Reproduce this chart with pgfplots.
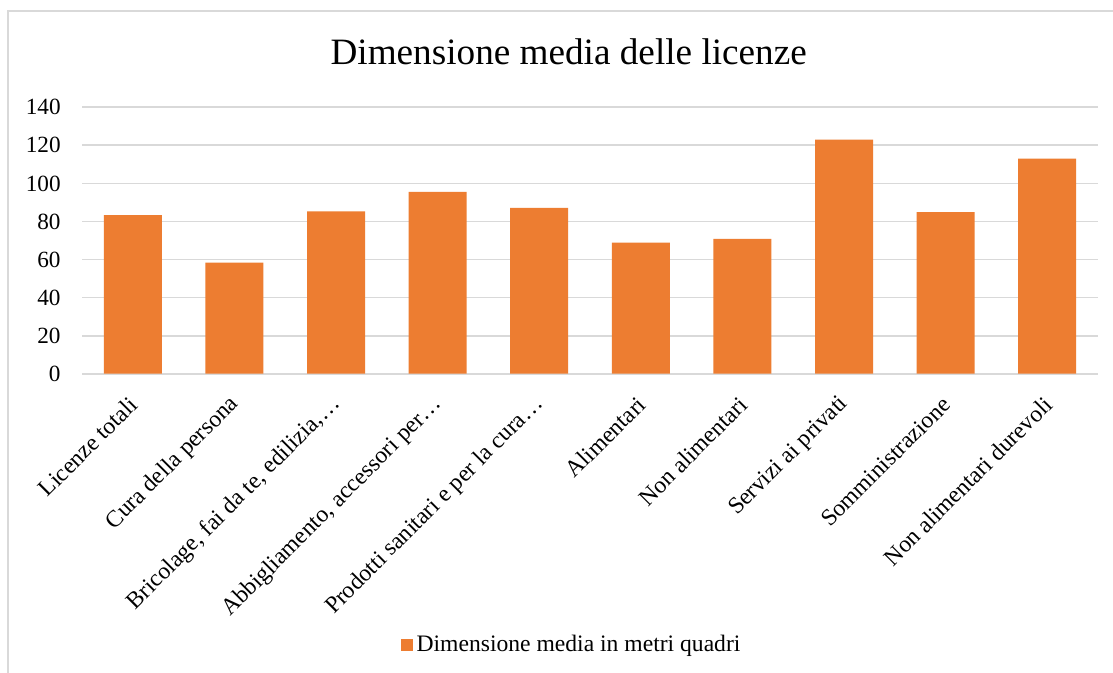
\documentclass[border=0pt]{standalone}
\usepackage{pgfplots}
\pgfplotsset{compat=1.18}
\usepackage{fontspec}
\setmainfont{Liberation Serif}

\definecolor{barorange}{HTML}{ED7D31}
\definecolor{gridgray}{HTML}{D9D9D9}

\pgfplotstableread[col sep=comma]{
x,val
0,83.3
1,58.4
2,85.3
3,95.6
4,87.2
5,68.9
6,70.9
7,123.0
8,84.9
9,113.0
}\licenze

\begin{document}
\begin{tikzpicture}
% canvas: 1113 x 673 px at 0.5pt per px
\useasboundingbox (0,0) rectangle (556.5pt,336.5pt);
\fill[white] (0,0) rectangle (556.5pt,336.5pt);
% chart area frame (left and top edges)
\draw[gridgray, line width=0.8pt] (4pt,0pt) -- (4pt,331pt) -- (556.5pt,331pt);

\begin{axis}[
  at={(41pt,149.65pt)}, anchor=south west,
  scale only axis,
  width=508pt, height=133.2pt,
  xmin=-0.5, xmax=9.5,
  ymin=0, ymax=140,
  ytick={0,20,...,140},
  xtick={0,...,9},
  xticklabels={Licenze totali, Cura della persona, {Bricolage, fai da te, edilizia,…}, {Abbigliamento, accessori per…}, Prodotti sanitari e per la cura…, Alimentari, Non alimentari, Servizi ai privati, Somministrazione, Non alimentari durevoli},
  axis line style={draw=none},
  major tick length=0pt,
  ymajorgrids,
  major grid style={gridgray, line width=0.9pt},
  /pgf/number format/assume math mode=true,
  tick label style={text=black},
  yticklabel style={font=\fontsize{11.6}{14}\selectfont, anchor=east, inner sep=0pt, xshift=-10.5pt},
  xticklabel style={font=\fontsize{11.8}{14}\selectfont, yshift=-13.5pt, xshift=0.5pt, rotate=45, anchor=east, inner sep=0pt},
  title={Dimensione media delle licenze},
  title style={font=\fontsize{18.6}{22}\selectfont, at={(axis description cs:0.479,1.1626)}, anchor=center, inner sep=0pt},
  legend style={draw=none, fill=none, at={(axis description cs:0.483,-1.018)}, anchor=center,
    font=\fontsize{11.8}{14}\selectfont, inner sep=0pt,
    /tikz/every even column/.append style={column sep=0pt}},
  legend image code/.code={\fill[barorange] (0pt,-2.9pt) rectangle (5.8pt,2.9pt);},
  legend cell align=left,
]
\addplot[ybar, bar width=29pt, fill=barorange, draw=none, bar shift=0pt]
  table[x=x, y=val] {\licenze};
\addlegendentry{Dimensione media in metri quadri}
\end{axis}
\end{tikzpicture}
\end{document}
